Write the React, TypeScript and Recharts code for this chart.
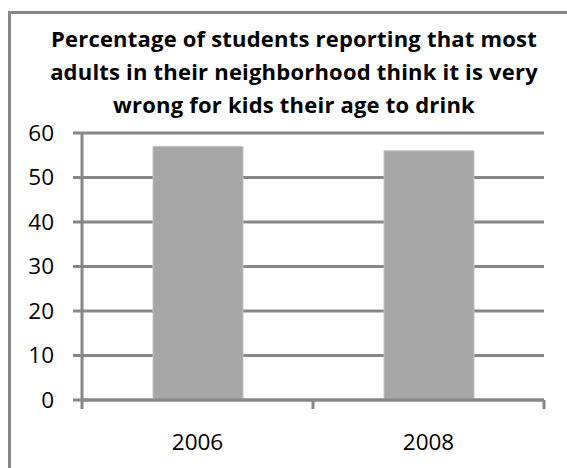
import React from 'react';
import { BarChart, Bar, XAxis, YAxis, CartesianGrid } from 'recharts';

// Survey results by year
const years: string[] = ['2006', '2008'];
const percentages: number[] = [57, 56];
const valueTicks: number[] = [0, 10, 20, 30, 40, 50, 60];
const titleLines: string[] = [
  'Percentage of students reporting that most',
  'adults in their neighborhood think it is very',
  'wrong for kids their age to drink',
];

const data = years.map((year, i) => ({ year, pct: percentages[i] }));

const AXIS_GREY = '#878787';
const FONT = '"Open Sans", Lato, sans-serif';
const X_TICK_SIZE = 9;
const X_TICK_MARGIN = 25;

// Category label plus tick marks on the band edges (between categories)
function CategoryTick(props: any) {
  const { x, y, payload, index, visibleTicksCount } = props;
  const half = payload && payload.offset ? payload.offset : 0;
  const axisY = y - X_TICK_MARGIN;
  const isLast = index === visibleTicksCount - 1;
  return (
    <g>
      <line
        x1={x - half}
        x2={x - half}
        y1={axisY}
        y2={axisY + X_TICK_SIZE}
        stroke={AXIS_GREY}
        strokeWidth={3}
      />
      {isLast && (
        <line
          x1={x + half}
          x2={x + half}
          y1={axisY}
          y2={axisY + X_TICK_SIZE}
          stroke={AXIS_GREY}
          strokeWidth={3}
        />
      )}
      <text
        x={x}
        y={y + X_TICK_SIZE}
        dy="0.71em"
        textAnchor="middle"
        fill="#000000"
        fontSize={22.5}
        fontFamily={FONT}
      >
        {payload.value}
      </text>
    </g>
  );
}

export default function App() {
  return (
    <div
      style={{
        position: 'absolute',
        left: 0,
        top: 0,
        width: 567,
        height: 468,
        overflow: 'hidden',
        background: '#ffffff',
      }}
    >
      {/* chart frame */}
      <div
        style={{
          position: 'absolute',
          left: 8,
          top: 11,
          width: 700,
          height: 700,
          border: `3px solid ${AXIS_GREY}`,
        }}
      />
      {/* title */}
      <div
        style={{
          position: 'absolute',
          left: 0,
          top: 22,
          width: 588,
          textAlign: 'center',
          fontFamily: FONT,
          fontWeight: 700,
          fontSize: 22,
          letterSpacing: '0.2px',
          lineHeight: '33px',
          color: '#000000',
        }}
      >
        {titleLines.map((line) => (
          <div key={line}>{line}</div>
        ))}
      </div>
      <div style={{ position: 'absolute', left: 0, top: 0 }}>
        <BarChart
          width={567}
          height={468}
          data={data}
          margin={{ top: 133, right: 23, bottom: 0, left: 22 }}
        >
          <CartesianGrid vertical={false} stroke={AXIS_GREY} strokeWidth={3} />
          <XAxis
            dataKey="year"
            height={68}
            interval={0}
            axisLine={{ stroke: AXIS_GREY, strokeWidth: 3 }}
            tickLine={false}
            tickSize={0}
            tickMargin={X_TICK_MARGIN}
            tick={<CategoryTick />}
          />
          <YAxis
            width={60}
            domain={[0, 60]}
            ticks={valueTicks}
            interval={0}
            tickSize={9}
            tickMargin={19}
            axisLine={{ stroke: AXIS_GREY, strokeWidth: 3 }}
            tickLine={{ stroke: AXIS_GREY, strokeWidth: 3 }}
            tick={{ fill: '#000000', fontSize: 22.5, fontFamily: FONT }}
          />
          <Bar
            dataKey="pct"
            barSize={90}
            fill="#a6a6a6"
            stroke="#c2c2c2"
            strokeWidth={1}
            isAnimationActive={false}
          />
        </BarChart>
      </div>
    </div>
  );
}
